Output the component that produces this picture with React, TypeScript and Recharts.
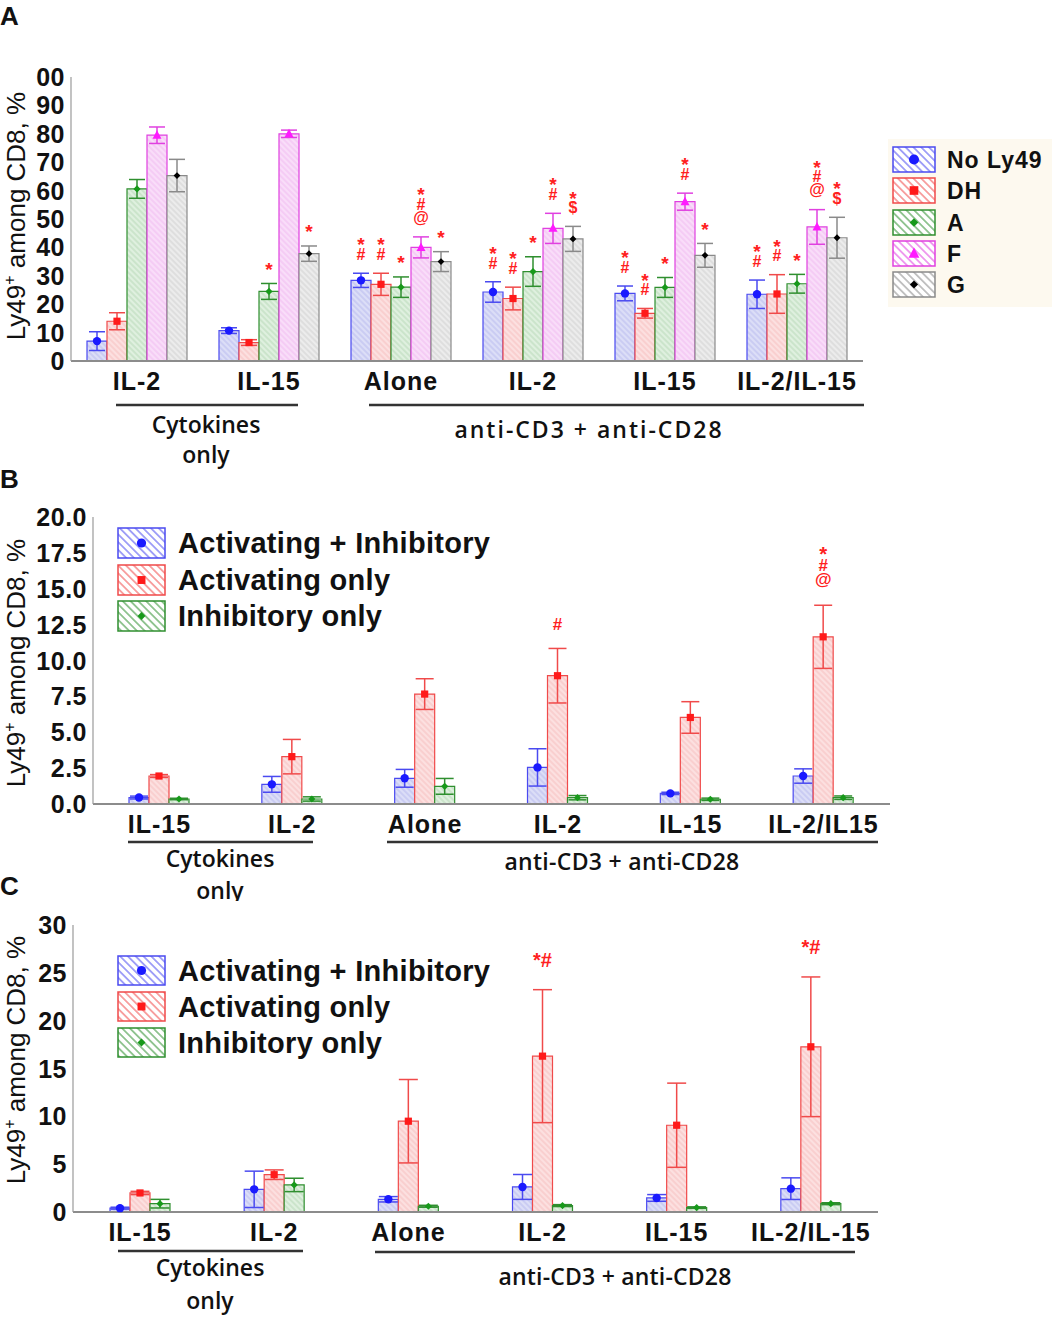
import React from "react";
import { BarChart, Bar, XAxis, YAxis, ErrorBar, LabelList } from "recharts";

// ---- panel A: five Ly49 subsets ----
const A_CATS = ["IL-2", "IL-15", "Alone", "IL-2", "IL-15", "IL-2/IL-15"];
const A_NAMES = ["No Ly49", "DH", "A", "F", "G"];
const A_NOLY49 = [7, 10.7, 28.4, 24.3, 23.8, 23.5];
const A_NOLY49_ERR = [3.3, 1, 2.5, 3.6, 2.6, 5];
const A_NOLY49_ANN = ["", "", "*#", "*#", "*#", "*#"];
const A_DH = [14, 6.5, 27, 22, 16.8, 23.6];
const A_DH_ERR = [3, 1, 3.9, 4, 1.7, 6.8];
const A_DH_ANN = ["", "", "*#", "*#", "*#", "*#"];
const A_A = [60.6, 24.5, 26, 31.5, 25.9, 27.2];
const A_A_ERR = [3.3, 2.8, 3.6, 5.2, 3.5, 3.3];
const A_A_ANN = ["", "*", "*", "*", "*", "*"];
const A_F = [79.5, 80, 40, 46.7, 56.1, 47.2];
const A_F_ERR = [2.9, 1.3, 3.7, 5.3, 3, 6.1];
const A_F_ANN = ["", "", "*#@", "*#", "*#", "*#@"];
const A_G = [65.3, 37.8, 35, 43, 37.2, 43.4];
const A_G_ERR = [5.7, 2.7, 3.5, 4.4, 4.2, 7.2];
const A_G_ANN = ["", "*", "*", "*$", "*", "*$"];
const A_TICKS = [0, 10, 20, 30, 40, 50, 60, 70, 80, 90, 100];

// ---- panel B ----
const B_CATS = ["IL-15", "IL-2", "Alone", "IL-2", "IL-15", "IL-2/IL15"];
const B_ACT_INH = [0.45, 1.37, 1.79, 2.55, 0.74, 1.95];
const B_ACT_INH_ERR = [0.1, 0.55, 0.62, 1.3, 0.08, 0.5];
const B_ACT = [1.95, 3.3, 7.66, 8.94, 6.03, 11.65];
const B_ACT_ERR = [0.1, 1.2, 1.07, 1.9, 1.1, 2.2];
const B_ACT_ANN = ["", "", "", "#", "", "*#@"];
const B_INH = [0.35, 0.35, 1.23, 0.44, 0.33, 0.44];
const B_INH_ERR = [0.05, 0.15, 0.55, 0.15, 0.08, 0.12];
const B_TICKS = [0, 2.5, 5, 7.5, 10, 12.5, 15, 17.5, 20];

// ---- panel C ----
const C_CATS = ["IL-15", "IL-2", "Alone", "IL-2", "IL-15", "IL-2/IL-15"];
const C_ACT_INH = [0.4, 2.37, 1.33, 2.62, 1.47, 2.44];
const C_ACT_INH_ERR = [0.1, 1.9, 0.28, 1.3, 0.35, 1.13];
const C_ACT = [1.99, 3.9, 9.49, 16.29, 9.07, 17.27];
const C_ACT_ERR = [0.17, 0.5, 4.36, 6.95, 4.4, 7.3];
const C_ACT_ANN = ["", "", "", "*#", "", "*#"];
const C_INH = [0.87, 2.83, 0.6, 0.67, 0.46, 0.87];
const C_INH_ERR = [0.45, 0.7, 0.1, 0.1, 0.08, 0.1];
const C_TICKS = [0, 5, 10, 15, 20, 25, 30];

const BC_NAMES = ["Activating + Inhibitory", "Activating only", "Inhibitory only"];

const SANS = '"Liberation Sans", Arial, sans-serif';
const CAL = '"Open Sans", "Noto Sans", sans-serif';
const ANN_RED = "#ff2020";

const PAL: Record<string, { line: string; dot: string; fill: string; hatch: string }> = {
  blue: { line: "#4a4af0", dot: "#1a1aff", fill: "#dcdef7", hatch: "#9a9de8" },
  red: { line: "#f04a4a", dot: "#ff1a1a", fill: "#fce0e0", hatch: "#f0a0a0" },
  green: { line: "#2f8f2f", dot: "#17991a", fill: "#dff0df", hatch: "#95c495" },
  magenta: { line: "#e040e0", dot: "#ff1aff", fill: "#f9ddf9", hatch: "#e8a0e8" },
  gray: { line: "#8a8a8a", dot: "#000000", fill: "#ececec", hatch: "#bbbbbb" },
};

type Series = { id: string; pal: string; marker: string; vals: number[]; errs: number[]; ann?: string[] };

const A_SERIES: Series[] = [
  { id: "noly49", pal: "blue", marker: "circle", vals: A_NOLY49, errs: A_NOLY49_ERR, ann: A_NOLY49_ANN },
  { id: "dh", pal: "red", marker: "square", vals: A_DH, errs: A_DH_ERR, ann: A_DH_ANN },
  { id: "a", pal: "green", marker: "diamond", vals: A_A, errs: A_A_ERR, ann: A_A_ANN },
  { id: "f", pal: "magenta", marker: "triangle", vals: A_F, errs: A_F_ERR, ann: A_F_ANN },
  { id: "g", pal: "gray", marker: "dot", vals: A_G, errs: A_G_ERR, ann: A_G_ANN },
];
const B_SERIES: Series[] = [
  { id: "ai", pal: "blue", marker: "circle", vals: B_ACT_INH, errs: B_ACT_INH_ERR },
  { id: "act", pal: "red", marker: "square", vals: B_ACT, errs: B_ACT_ERR, ann: B_ACT_ANN },
  { id: "inh", pal: "green", marker: "diamond", vals: B_INH, errs: B_INH_ERR },
];
const C_SERIES: Series[] = [
  { id: "ai", pal: "blue", marker: "circle", vals: C_ACT_INH, errs: C_ACT_INH_ERR },
  { id: "act", pal: "red", marker: "square", vals: C_ACT, errs: C_ACT_ERR, ann: C_ACT_ANN },
  { id: "inh", pal: "green", marker: "diamond", vals: C_INH, errs: C_INH_ERR },
];

function box(p: any) {
  const vb = p.viewBox || {};
  return {
    x: Number(vb.x ?? p.x),
    y: Number(vb.y ?? p.y),
    w: Number(vb.width ?? p.width),
    h: Number(vb.height ?? p.height),
  };
}

function Marker({ cx, cy, shape, color, s = 1 }: any) {
  if (shape === "circle") return <circle cx={cx} cy={cy} r={4.2 * s} fill={color} />;
  if (shape === "square")
    return <rect x={cx - 3.6 * s} y={cy - 3.6 * s} width={7.2 * s} height={7.2 * s} fill={color} />;
  if (shape === "diamond")
    return (
      <path
        d={`M${cx},${cy - 3.6 * s}L${cx + 3.6 * s},${cy}L${cx},${cy + 3.6 * s}L${cx - 3.6 * s},${cy}Z`}
        fill={color}
      />
    );
  if (shape === "triangle")
    return (
      <path
        d={`M${cx},${cy - 5 * s}L${cx + 4.5 * s},${cy + 3.5 * s}L${cx - 4.5 * s},${cy + 3.5 * s}Z`}
        fill={color}
      />
    );
  return (
    <path
      d={`M${cx},${cy - 3.4 * s}L${cx + 3.4 * s},${cy}L${cx},${cy + 3.4 * s}L${cx - 3.4 * s},${cy}Z`}
      fill={color}
    />
  );
}

// vertical centre of each glyph above its baseline, in em
const GLYPH_MID: Record<string, number> = { "*": 0.58, "#": 0.36, "@": 0.3, $: 0.37 };

function annRenderer(errs: number[], ppu: number, cfg: any) {
  return (p: any) => {
    const text = p.value;
    if (!text) return null;
    const b = box(p);
    const i = p.index ?? 0;
    const cx = b.x + b.w / 2;
    const last = b.y - errs[i] * ppu - cfg.gap;
    const common = {
      textAnchor: "middle" as const,
      fontFamily: SANS,
      fontWeight: "bold",
      fill: ANN_RED,
    };
    if (!cfg.stack)
      return (
        <text x={cx} y={last + cfg.size * 0.36} fontSize={cfg.size} {...common}>
          {text}
        </text>
      );
    const chars: string[] = String(text).split("");
    return (
      <text {...common}>
        {chars.map((c, k) => {
          const fs = c === "*" ? cfg.size * 1.2 : cfg.size;
          const cy = last - (chars.length - 1 - k) * cfg.step;
          return (
            <tspan key={k} x={cx} y={cy + fs * (GLYPH_MID[c] ?? 0.36)} fontSize={fs}>
              {c}
            </tspan>
          );
        })}
      </text>
    );
  };
}

function Panel(props: any) {
  const { top, width, height, margin, yWidth, xHeight, cats, series, domain, ticks, fmt, capW, ann } = props;
  const ppu = (height - margin.top - xHeight) / domain[1];
  const data = cats.map((c: string, i: number) => {
    const row: any = { cat: c };
    series.forEach((s: Series) => {
      row[s.id] = s.vals[i];
      row[s.id + "Err"] = s.errs[i];
      row[s.id + "Ann"] = s.ann ? s.ann[i] : "";
    });
    return row;
  });
  return (
    <div style={{ position: "absolute", left: 0, top }}>
      <BarChart width={width} height={height} data={data} margin={margin} barGap={0} barSize={20}>
        <XAxis
          dataKey="cat"
          height={xHeight}
          interval={0}
          tickLine={false}
          tickSize={0}
          tickMargin={0}
          axisLine={{ stroke: "#8c8c8c", strokeWidth: 2 }}
          tick={(p: any) => (
            <text
              x={p.x}
              y={p.y + 29}
              textAnchor="middle"
              fontFamily={SANS}
              fontWeight="bold"
              fontSize={25}
              letterSpacing={1}
              fill="#111"
            >
              {p.payload.value}
            </text>
          )}
        />
        <YAxis
          type="number"
          width={yWidth}
          domain={domain}
          ticks={ticks}
          interval={0}
          tickLine={false}
          tickSize={0}
          tickMargin={0}
          axisLine={{ stroke: "#9a9a9a", strokeWidth: 1.2 }}
          tick={(p: any) => (
            <text
              x={p.x - 6}
              y={p.y + 9}
              textAnchor="end"
              fontFamily={SANS}
              fontWeight="bold"
              fontSize={25}
              letterSpacing={0.5}
              fill="#111"
            >
              {fmt(p.payload.value)}
            </text>
          )}
        />
        {series.map((s: Series) => (
          <Bar
            key={s.id}
            dataKey={s.id}
            fill={`url(#bar-${s.pal})`}
            stroke={PAL[s.pal].line}
            strokeWidth={1.2}
            isAnimationActive={false}
          >
            <ErrorBar dataKey={s.id + "Err"} width={capW} stroke={PAL[s.pal].line} strokeWidth={1.5} />
            <LabelList
              dataKey={s.id}
              content={(p: any) => {
                const b = box(p);
                return <Marker cx={b.x + b.w / 2} cy={b.y} shape={s.marker} color={PAL[s.pal].dot} />;
              }}
            />
            {s.ann && <LabelList dataKey={s.id + "Ann"} content={annRenderer(s.errs, ppu, ann)} />}
          </Bar>
        ))}
      </BarChart>
    </div>
  );
}

function Hatch({ id, bg, line, op, gap, sw }: any) {
  return (
    <pattern id={id} patternUnits="userSpaceOnUse" width={gap} height={gap} patternTransform="rotate(-45)">
      <rect width={gap} height={gap} fill={bg} />
      <line x1={gap / 2} y1={0} x2={gap / 2} y2={gap} stroke={line} strokeWidth={sw} strokeOpacity={op} />
    </pattern>
  );
}

function YLabel({ x, y }: { x: number; y: number }) {
  return (
    <text transform={`translate(${x},${y}) rotate(-90)`} textAnchor="middle" fontFamily={SANS} fontSize={26} fill="#111">
      Ly49
      <tspan dy={-10} fontSize={16}>
        +
      </tspan>
      <tspan dy={10}> among CD8, %</tspan>
    </text>
  );
}

function LegendBox({ x, y, w, h, pal, marker, label, tx, fs, ls, ms }: any) {
  return (
    <g>
      <rect x={x} y={y} width={w} height={h} fill={`url(#leg-${pal})`} stroke={PAL[pal].line} strokeWidth={1.5} />
      <Marker cx={x + w / 2} cy={y + h / 2} shape={marker} color={PAL[pal].dot} s={ms} />
      <text
        x={tx}
        y={y + h / 2 + fs * 0.36}
        fontFamily={SANS}
        fontWeight="bold"
        fontSize={fs}
        letterSpacing={ls}
        fill="#111"
      >
        {label}
      </text>
    </g>
  );
}

function Bracket({ x1, x2, y }: any) {
  return <line x1={x1} x2={x2} y1={y} y2={y} stroke="#333" strokeWidth={2.5} />;
}

function GroupText({ x, y, size, ls = 0, children }: any) {
  return (
    <text x={x} y={y} textAnchor="middle" fontFamily={CAL} fontWeight={600} fontSize={size} letterSpacing={ls} fill="#111">
      {children}
    </text>
  );
}

const A_LEG_TOPS = [147, 178, 210, 241, 272];
const B_LEG_TOPS = [528, 565, 601];
const C_LEG_TOPS = [956, 992, 1028];
const A_MARKERS = ["circle", "square", "diamond", "triangle", "dot"];
const BC_MARKERS = ["circle", "square", "diamond"];

export default function App() {
  return (
    <div style={{ position: "absolute", left: 0, top: 0, width: 1052, height: 1318, background: "#fff" }}>
      <Panel
        top={0}
        width={880}
        height={400}
        margin={{ top: 77, right: 17, bottom: 0, left: 0 }}
        yWidth={71}
        xHeight={39}
        cats={A_CATS}
        series={A_SERIES}
        domain={[0, 100]}
        ticks={A_TICKS}
        fmt={(v: number) => (v === 100 ? "00" : String(v))}
        capW={8}
        ann={{ stack: true, gap: 19, step: 14, size: 16 }}
      />
      <Panel
        top={440}
        width={900}
        height={400}
        margin={{ top: 77, right: 10, bottom: 0, left: 0 }}
        yWidth={93}
        xHeight={36}
        cats={B_CATS}
        series={B_SERIES}
        domain={[0, 20]}
        ticks={B_TICKS}
        fmt={(v: number) => v.toFixed(1)}
        capW={9}
        ann={{ stack: true, gap: 25, step: 15.5, size: 17 }}
      />
      <Panel
        top={850}
        width={890}
        height={400}
        margin={{ top: 75, right: 12, bottom: 0, left: 0 }}
        yWidth={73}
        xHeight={38}
        cats={C_CATS}
        series={C_SERIES}
        domain={[0, 30]}
        ticks={C_TICKS}
        fmt={(v: number) => String(v)}
        capW={9.5}
        ann={{ stack: false, gap: 30, step: 0, size: 20 }}
      />
      <svg
        width={1052}
        height={1318}
        style={{ position: "absolute", left: 0, top: 0, pointerEvents: "none" }}
      >
        <defs>
          {Object.keys(PAL).map((k) => (
            <Hatch key={"b" + k} id={`bar-${k}`} bg={PAL[k].fill} line={PAL[k].hatch} op={0.7} gap={4} sw={0.8} />
          ))}
          {Object.keys(PAL).map((k) => (
            <Hatch key={"l" + k} id={`leg-${k}`} bg="#ffffff" line={PAL[k].line} op={0.9} gap={5.5} sw={1.1} />
          ))}
          <clipPath id="clipOnlyB">
            <rect x={0} y={840} width={600} height={61} />
          </clipPath>
        </defs>

        {/* panel letters */}
        <text x={0} y={25} fontFamily={SANS} fontWeight="bold" fontSize={26} fill="#111">A</text>
        <text x={0} y={488} fontFamily={SANS} fontWeight="bold" fontSize={26} fill="#111">B</text>
        <text x={0} y={895} fontFamily={SANS} fontWeight="bold" fontSize={26} fill="#111">C</text>

        <YLabel x={25} y={216} />
        <YLabel x={25} y={663} />
        <YLabel x={25} y={1060} />

        {/* panel A groups */}
        <Bracket x1={116} x2={298} y={405} />
        <Bracket x1={369} x2={864} y={405} />
        <GroupText x={206} y={433} size={23}>Cytokines</GroupText>
        <GroupText x={206} y={463} size={23}>only</GroupText>
        <GroupText x={589} y={438} size={23} ls={2}>anti-CD3 + anti-CD28</GroupText>

        {/* panel B groups */}
        <Bracket x1={128} x2={313} y={842} />
        <Bracket x1={387} x2={878} y={842} />
        <GroupText x={220} y={867} size={23}>Cytokines</GroupText>
        <g clipPath="url(#clipOnlyB)">
          <GroupText x={220} y={899} size={23}>only</GroupText>
        </g>
        <GroupText x={622} y={870} size={23} ls={0.3}>anti-CD3 + anti-CD28</GroupText>

        {/* panel C groups */}
        <Bracket x1={118} x2={303} y={1251} />
        <Bracket x1={375} x2={855} y={1252} />
        <GroupText x={210} y={1276} size={23}>Cytokines</GroupText>
        <GroupText x={210} y={1309} size={23}>only</GroupText>
        <GroupText x={615} y={1285} size={23} ls={0.2}>anti-CD3 + anti-CD28</GroupText>

        {/* legend A */}
        <rect x={888} y={139} width={164} height={168} fill="#fdf9ef" />
        {A_NAMES.map((n, i) => (
          <LegendBox
            key={n}
            x={893}
            y={A_LEG_TOPS[i]}
            w={42}
            h={25}
            pal={A_SERIES[i].pal}
            marker={A_MARKERS[i]}
            label={n}
            tx={947}
            fs={23}
            ls={1}
            ms={1.2}
          />
        ))}

        {/* legend B */}
        {BC_NAMES.map((n, i) => (
          <LegendBox
            key={"b" + n}
            x={118}
            y={B_LEG_TOPS[i]}
            w={47}
            h={30}
            pal={B_SERIES[i].pal}
            marker={BC_MARKERS[i]}
            label={n}
            tx={178}
            fs={29}
            ls={0.3}
            ms={1.1}
          />
        ))}

        {/* legend C */}
        {BC_NAMES.map((n, i) => (
          <LegendBox
            key={"c" + n}
            x={118}
            y={C_LEG_TOPS[i]}
            w={47}
            h={29}
            pal={C_SERIES[i].pal}
            marker={BC_MARKERS[i]}
            label={n}
            tx={178}
            fs={29}
            ls={0.3}
            ms={1.1}
          />
        ))}
      </svg>
    </div>
  );
}
